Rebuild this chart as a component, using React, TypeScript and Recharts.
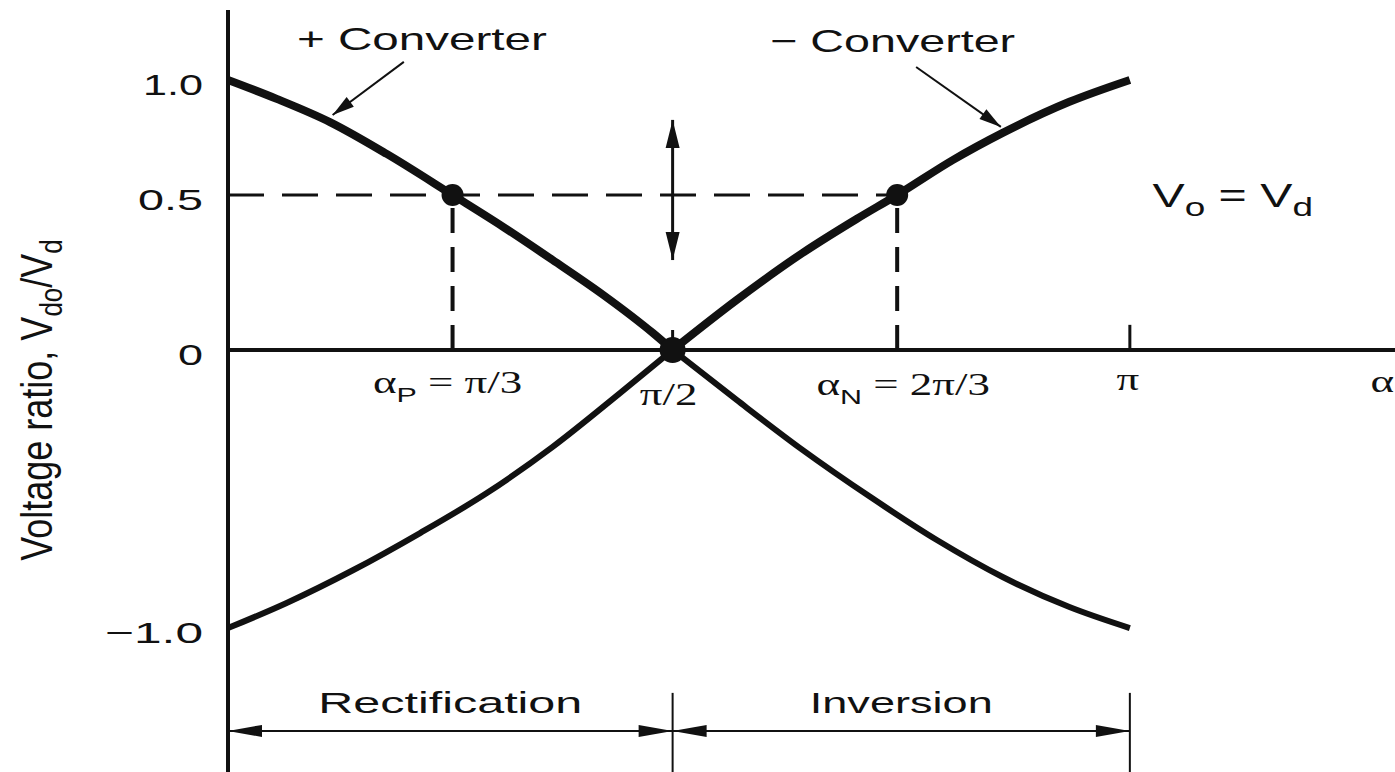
import React from 'react';
import { ComposedChart, Line, XAxis, YAxis, ReferenceLine, ReferenceDot } from 'recharts';

// The sketch is not drawn to scale, so values are kept in drawing units:
// x = 1 at alpha = pi, y = 1 at the "1.0" level.
const plusX = [0, 0.054, 0.113, 0.176, 0.249, 0.305, 0.36, 0.416, 0.471, 0.493, 0.564, 0.637, 0.712, 0.786, 0.859, 0.933, 1.0];
const plusY = [1.0, 0.93, 0.844, 0.726, 0.574, 0.456, 0.333, 0.204, 0.063, 0, -0.185, -0.37, -0.544, -0.704, -0.841, -0.952, -1.03];
const minusX = [0, 0.065, 0.139, 0.213, 0.287, 0.36, 0.435, 0.493, 0.564, 0.637, 0.697, 0.742, 0.804, 0.859, 0.933, 1.0];
const minusY = [-1.03, -0.937, -0.815, -0.678, -0.53, -0.359, -0.159, 0, 0.185, 0.359, 0.485, 0.574, 0.704, 0.804, 0.919, 1.0];

const dotX = [0.249, 0.493, 0.742];
const dotY = [0.574, 0, 0.574];

const yTickPos = [1.0, 0.574, 0, -1.03];
const yTickLabels = ['1.0', '0.5', '0', '\u22121.0'];

const xTickPos = [0.249, 0.493, 0.742, 1.0, 1.28];
const xTickLabels = ['\u03b1P = \u03c0/3', '\u03c0/2', '\u03b1N = 2\u03c0/3', '\u03c0', '\u03b1'];

const regionEdges = [0, 0.493, 1.0];
const regionLabels = ['Rectification', 'Inversion'];

const LEVEL = 0.574; // the 0.5 operating level
const CROSS = 0.493; // alpha = pi/2
const X_MAX = 1.294;
const Y_MAX = 1.259;
const Y_MIN = -1.563;

const INK = '#111';
const SANS = '"Liberation Sans", Arial, sans-serif';
const SERIF = '"Liberation Serif", "Times New Roman", serif';

// label offsets / widths (px)
const xLabelDx = [-5, -4, 6, -2, 0];
const xLabelDy = [43, 55, 45, 40, 42];
const yLabelW = [60, 65, 25, 98];

const plusData = plusX.map((x, i) => ({ x, y: plusY[i] }));
const minusData = minusX.map((x, i) => ({ x, y: minusY[i] }));
const plusLeft = plusData.filter((d) => d.x <= CROSS);
const plusRight = plusData.filter((d) => d.x >= CROSS);
const minusLeft = minusData.filter((d) => d.x <= CROSS);
const minusRight = minusData.filter((d) => d.x >= CROSS);

const arrowShape = (startHead: boolean, endHead: boolean, len: number, half: number, width: number) =>
  (p: any) => {
    const { x1, y1, x2, y2 } = p;
    const d = Math.hypot(x2 - x1, y2 - y1) || 1;
    const ux = (x2 - x1) / d;
    const uy = (y2 - y1) / d;
    const head = (tx: number, ty: number, dx: number, dy: number) => {
      const bx = tx - dx * len;
      const by = ty - dy * len;
      return `${tx},${ty} ${bx - dy * half},${by + dx * half} ${bx + dy * half},${by - dx * half}`;
    };
    return (
      <g>
        <line x1={x1} y1={y1} x2={x2} y2={y2} stroke={INK} strokeWidth={width} />
        {startHead && <polygon points={head(x1, y1, -ux, -uy)} fill={INK} />}
        {endHead && <polygon points={head(x2, y2, ux, uy)} fill={INK} />}
      </g>
    );
  };

const plainText = (text: string, size: number, w: number, dy = 0) => (p: any) => (
  <text x={p.cx} y={p.cy + dy} textAnchor="middle" fontFamily={SANS} fontSize={size}
    textLength={w} lengthAdjust="spacingAndGlyphs" fill={INK}>{text}</text>
);

const renderXLabel = (label: string, i: number) => (p: any) => {
  const m = label.match(/^\u03b1([A-Z]) (.*)$/);
  return (
    <g transform={`translate(${p.cx + xLabelDx[i]},${p.cy + xLabelDy[i]}) scale(1.45,1)`}>
      <text x={0} y={0} textAnchor="middle" fontFamily={SERIF} fontSize={31} fill={INK}>
        {m ? (
          <>
            <tspan>{'\u03b1'}</tspan>
            <tspan dy={9} fontFamily={SANS} fontSize={21}>{m[1]}</tspan>
            <tspan dy={-9}>{'  ' + m[2]}</tspan>
          </>
        ) : label}
      </text>
    </g>
  );
};

const renderVoVd = (p: any) => (
  <g transform={`translate(${p.cx},${p.cy}) scale(1.42,1)`}>
    <text x={0} y={0} textAnchor="middle" fontFamily={SANS} fontSize={34} fill={INK}>
      <tspan>V</tspan>
      <tspan dy={9} fontSize={26}>o</tspan>
      <tspan dy={-9}> = V</tspan>
      <tspan dy={9} fontSize={26}>d</tspan>
    </text>
  </g>
);

const renderYTick = (p: any) => {
  const i = yTickPos.indexOf(p.payload.value);
  return (
    <text x={p.x} y={p.y + 15} textAnchor="end" fontFamily={SANS} fontSize={30}
      textLength={yLabelW[i]} lengthAdjust="spacingAndGlyphs" fill={INK}>{yTickLabels[i]}</text>
  );
};

const renderYLabel = (p: any) => {
  const vb = p.viewBox;
  const cy = vb.y + vb.height / 2 + 9;
  return (
    <g transform={`translate(52,${cy}) scale(1.24,1) rotate(-90)`}>
      <text x={0} y={0} textAnchor="middle" fontFamily={SANS} fontSize={36} fill={INK}>
        <tspan>Voltage ratio, V</tspan>
        <tspan dy={8} fontSize={26}>do</tspan>
        <tspan dy={-8}>/V</tspan>
        <tspan dy={8} fontSize={26}>d</tspan>
      </text>
    </g>
  );
};

export default function App() {
  return (
    <div style={{ position: 'absolute', left: 0, top: 0, width: 1395, height: 772, background: '#fff' }}>
      <ComposedChart width={1395} height={772} margin={{ top: 10, right: 0, bottom: 0, left: 0 }}>
        <XAxis type="number" dataKey="x" domain={[0, X_MAX]} hide allowDataOverflow />
        <YAxis
          type="number"
          dataKey="y"
          domain={[Y_MIN, Y_MAX]}
          width={228}
          ticks={yTickPos}
          interval={0}
          tick={renderYTick}
          tickLine={false}
          tickSize={0}
          tickMargin={25}
          axisLine={{ stroke: INK, strokeWidth: 4 }}
          allowDataOverflow
          label={{ content: renderYLabel }}
        />

        {/* alpha axis */}
        <ReferenceLine y={0} stroke={INK} strokeWidth={4} />
        <ReferenceLine segment={[{ x: 1, y: 0 }, { x: 1, y: 0.093 }]} stroke={INK} strokeWidth={3} />
        <ReferenceLine segment={[{ x: CROSS, y: 0 }, { x: CROSS, y: 0.074 }]} stroke={INK} strokeWidth={3} />

        {/* operating level */}
        <ReferenceLine segment={[{ x: 0, y: LEVEL }, { x: dotX[2], y: LEVEL }]} stroke={INK} strokeWidth={3} strokeDasharray="36 18" />
        <ReferenceLine segment={[{ x: dotX[0], y: 0 }, { x: dotX[0], y: LEVEL }]} stroke={INK} strokeWidth={4} strokeDasharray="25 14" />
        <ReferenceLine segment={[{ x: dotX[2], y: 0 }, { x: dotX[2], y: LEVEL }]} stroke={INK} strokeWidth={4} strokeDasharray="25 14" />
        <ReferenceLine segment={[{ x: CROSS, y: 0.852 }, { x: CROSS, y: 0.333 }]} shape={arrowShape(true, true, 28, 7, 3)} />

        <Line data={plusLeft} dataKey="y" type="monotone" stroke={INK} strokeWidth={8} dot={false} isAnimationActive={false} />
        <Line data={plusRight} dataKey="y" type="monotone" stroke={INK} strokeWidth={6} dot={false} isAnimationActive={false} />
        <Line data={minusLeft} dataKey="y" type="monotone" stroke={INK} strokeWidth={6} dot={false} isAnimationActive={false} />
        <Line data={minusRight} dataKey="y" type="monotone" stroke={INK} strokeWidth={8} dot={false} isAnimationActive={false} />

        {dotX.map((x, i) => (
          <ReferenceDot key={'d' + i} x={x} y={dotY[i]} r={i === 1 ? 13 : 11} fill={INK} stroke="none" />
        ))}

        {/* curve labels */}
        <ReferenceLine segment={[{ x: 0.195, y: 1.067 }, { x: 0.116, y: 0.87 }]} shape={arrowShape(false, true, 22, 6, 2)} />
        <ReferenceLine segment={[{ x: 0.763, y: 1.048 }, { x: 0.857, y: 0.826 }]} shape={arrowShape(false, true, 22, 6, 2)} />
        <ReferenceDot x={0.215} y={1.111} r={0} ifOverflow="visible" shape={plainText('+ Converter', 32, 250)} />
        <ReferenceDot x={0.737} y={1.104} r={0} ifOverflow="visible" shape={plainText('\u2212 Converter', 32, 245)} />
        <ReferenceDot x={1.114} y={0.53} r={0} ifOverflow="visible" shape={renderVoVd} />

        {xTickPos.map((x, i) => (
          <ReferenceDot key={'t' + i} x={x} y={0} r={0} ifOverflow="visible" shape={renderXLabel(xTickLabels[i], i)} />
        ))}

        {/* rectification / inversion ranges */}
        {regionEdges.slice(1).map((x, i) => (
          <ReferenceLine key={'e' + i} segment={[{ x, y: -1.27 }, { x, y: Y_MIN }]} stroke={INK} strokeWidth={2} />
        ))}
        {regionLabels.map((label, i) => (
          <React.Fragment key={'r' + i}>
            <ReferenceLine
              segment={[{ x: regionEdges[i], y: -1.411 }, { x: regionEdges[i + 1], y: -1.411 }]}
              shape={arrowShape(true, true, 34, 6, 2)}
            />
            <ReferenceDot
              x={(regionEdges[i] + regionEdges[i + 1]) / 2}
              y={-1.345}
              r={0}
              ifOverflow="visible"
              shape={plainText(label, 30, i === 0 ? 264 : 183)}
            />
          </React.Fragment>
        ))}
      </ComposedChart>
    </div>
  );
}
